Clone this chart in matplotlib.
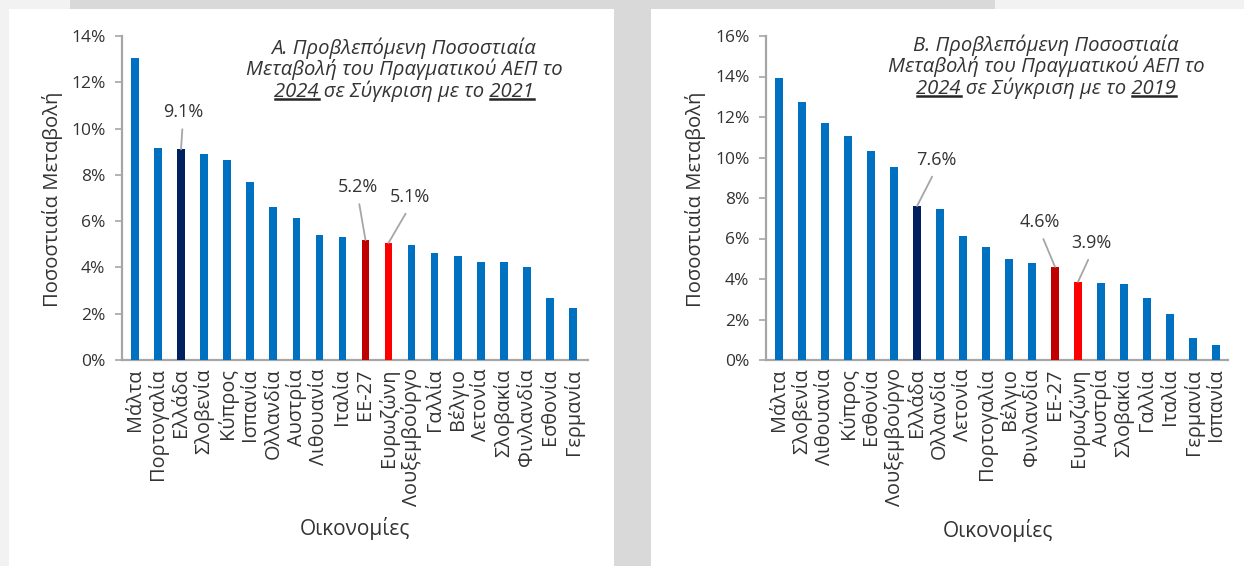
import matplotlib
matplotlib.use('Agg')
import matplotlib.pyplot as plt
from matplotlib.patches import Rectangle
from matplotlib.lines import Line2D
from matplotlib.ticker import FuncFormatter, MultipleLocator

plt.rcParams['font.family'] = ['Open Sans', 'DejaVu Sans']

# ---------------- data ----------------
countries_a = ['Μάλτα', 'Πορτογαλία', 'Ελλάδα', 'Σλοβενία', 'Κύπρος', 'Ισπανία',
               'Ολλανδία', 'Αυστρία', 'Λιθουανία', 'Ιταλία', 'ΕΕ-27', 'Ευρωζώνη',
               'Λουξεμβούργο', 'Γαλλία', 'Βέλγιο', 'Λετονία', 'Σλοβακία',
               'Φινλανδία', 'Εσθονία', 'Γερμανία']
values_a = [13.05, 9.15, 9.1, 8.9, 8.65, 7.7, 6.6, 6.12, 5.42, 5.3, 5.18, 5.06,
            4.96, 4.62, 4.5, 4.23, 4.23, 4.04, 2.67, 2.26]

countries_b = ['Μάλτα', 'Σλοβενία', 'Λιθουανία', 'Κύπρος', 'Εσθονία',
               'Λουξεμβούργο', 'Ελλάδα', 'Ολλανδία', 'Λετονία', 'Πορτογαλία',
               'Βέλγιο', 'Φινλανδία', 'ΕΕ-27', 'Ευρωζώνη', 'Αυστρία', 'Σλοβακία',
               'Γαλλία', 'Ιταλία', 'Γερμανία', 'Ισπανία']
values_b = [13.92, 12.73, 11.72, 11.08, 10.3, 9.53, 7.6, 7.47, 6.1, 5.6, 4.98,
            4.79, 4.6, 3.86, 3.82, 3.76, 3.05, 2.25, 1.08, 0.75]

title_a = ['Α. Προβλεπόμενη Ποσοστιαία', 'Μεταβολή του Πραγματικού ΑΕΠ το',
           ('2024', ' σε Σύγκριση με το ', '2021')]
title_b = ['Β. Προβλεπόμενη Ποσοστιαία', 'Μεταβολή του Πραγματικού ΑΕΠ το',
           ('2024', ' σε Σύγκριση με το ', '2019')]
ylabel = 'Ποσοστιαία Μεταβολή'
xlabel = 'Οικονομίες'

highlighted = ['Ελλάδα', 'ΕΕ-27', 'Ευρωζώνη']

# ---------------- style ----------------
C_BLUE = '#0070C0'
C_NAVY = '#002060'
C_DRED = '#C00000'
C_RED = '#FF0000'
special = {'Ελλάδα': C_NAVY, 'ΕΕ-27': C_DRED, 'Ευρωζώνη': C_RED}
TXT = '#333333'
AX = '#A6A6A6'
TITLE_FS = 14.6

W, H = 1244, 566
fig = plt.figure(figsize=(W / 100, H / 100), dpi=100, facecolor='#F2F2F2')


def px_rect(x0, y0, x1, y1, color):
    fig.patches.append(Rectangle((x0 / W, 1 - y1 / H), (x1 - x0) / W, (y1 - y0) / H,
                                 transform=fig.transFigure, facecolor=color,
                                 edgecolor='none', zorder=-10))


px_rect(70, 0, 995, 9, '#D9D9D9')
px_rect(614, 0, 651, H, '#D9D9D9')
px_rect(9, 9, 614, H, 'white')
px_rect(651, 9, W, H, 'white')


def make_panel(rect, countries, values, ymax, xlim, ann_pos, title, title_center,
               ylab_x, xlab_pos):
    ax = fig.add_axes(rect)
    ax.set_facecolor('none')
    x = list(range(len(countries)))
    cols = [special.get(c, C_BLUE) for c in countries]
    ax.bar(x, values, width=0.33, color=cols, zorder=3)
    ax.set_xlim(*xlim)
    ax.set_ylim(0, ymax)
    ax.yaxis.set_major_locator(MultipleLocator(2))
    ax.yaxis.set_major_formatter(FuncFormatter(lambda v, p: f'{v:.0f}%'))
    ax.set_xticks(x)
    ax.set_xticklabels(countries, rotation=90, fontsize=14.3, color=TXT)
    for s in ['top', 'right']:
        ax.spines[s].set_visible(False)
    for s in ['left', 'bottom']:
        ax.spines[s].set_color(AX)
        ax.spines[s].set_linewidth(1.6)
    ax.tick_params(axis='x', length=0, pad=6)
    ax.tick_params(axis='y', length=5, width=1.2, color=AX, pad=7,
                   labelsize=12.5, labelcolor=TXT)
    # annotations
    for c, (tx, ty) in ann_pos.items():
        i = countries.index(c)
        v = values[i]
        ax.annotate(f'{v:.1f}%', xy=(i, v), xytext=(tx, ty), textcoords='data',
                    ha='center', va='center', fontsize=13, color=TXT,
                    arrowprops=dict(arrowstyle='-', color=AX, lw=1.3,
                                    shrinkA=4, shrinkB=0, relpos=(0.5, 0)))
    # axis labels (figure pixel positions)
    fig.text(ylab_x / W, 1 - 199 / H, ylabel, rotation=90, ha='center', va='center',
             fontsize=14.6, color=TXT)
    fig.text(xlab_pos[0] / W, 1 - xlab_pos[1] / H, xlabel, ha='center', va='center',
             fontsize=15, color=TXT)
    # title (italic, third line with underlines)
    cx, y0, dy = title_center
    for k, line in enumerate(title[:2]):
        fig.text(cx / W, 1 - (y0 + k * dy) / H, line, ha='center', va='center',
                 fontsize=TITLE_FS, style='italic', color=TXT)
    parts = title[2]
    t3 = fig.text(cx / W, 1 - (y0 + 2 * dy) / H, ''.join(parts), ha='center',
                  va='center', fontsize=TITLE_FS, style='italic', color=TXT)
    return ax, t3, parts


ax_a, t3a, pa = make_panel([122 / W, 1 - 360 / H, (588 - 122) / W, 324 / H],
                           countries_a, values_a, 14, (-0.56, 19.65),
                           {'Ελλάδα': (2.08, 10.72), 'ΕΕ-27': (9.67, 7.48),
                            'Ευρωζώνη': (11.93, 7.04)},
                           title_a, (404, 48, 21.5), 53, (355, 528))
ax_b, t3b, pb = make_panel([766 / W, 1 - 360 / H, (1228 - 766) / W, 324 / H],
                           countries_b, values_b, 16, (-0.565, 19.52),
                           {'Ελλάδα': (6.83, 9.88), 'ΕΕ-27': (11.35, 6.81),
                            'Ευρωζώνη': (13.6, 5.78)},
                           title_b, (1046, 45, 21.5), 696, (998, 530))

# underline the years in the third title line
fig.canvas.draw()
r = fig.canvas.get_renderer()
for t3, parts in [(t3a, pa), (t3b, pb)]:
    bb = t3.get_window_extent(r)
    tmp1 = fig.text(0, 0, parts[0], fontsize=TITLE_FS, style='italic')
    tmp2 = fig.text(0, 0, parts[2], fontsize=TITLE_FS, style='italic')
    w1 = tmp1.get_window_extent(r).width
    w2 = tmp2.get_window_extent(r).width
    tmp1.remove()
    tmp2.remove()
    yl = bb.y0 + 2.5
    for xa, xb in [(bb.x0 + 1, bb.x0 + w1), (bb.x1 - w2 + 1, bb.x1)]:
        fig.add_artist(Line2D([xa / W, xb / W], [yl / H, yl / H],
                              transform=fig.transFigure, color='#262626', lw=1.8))

fig.savefig('out.png', dpi=100, facecolor=fig.get_facecolor())
